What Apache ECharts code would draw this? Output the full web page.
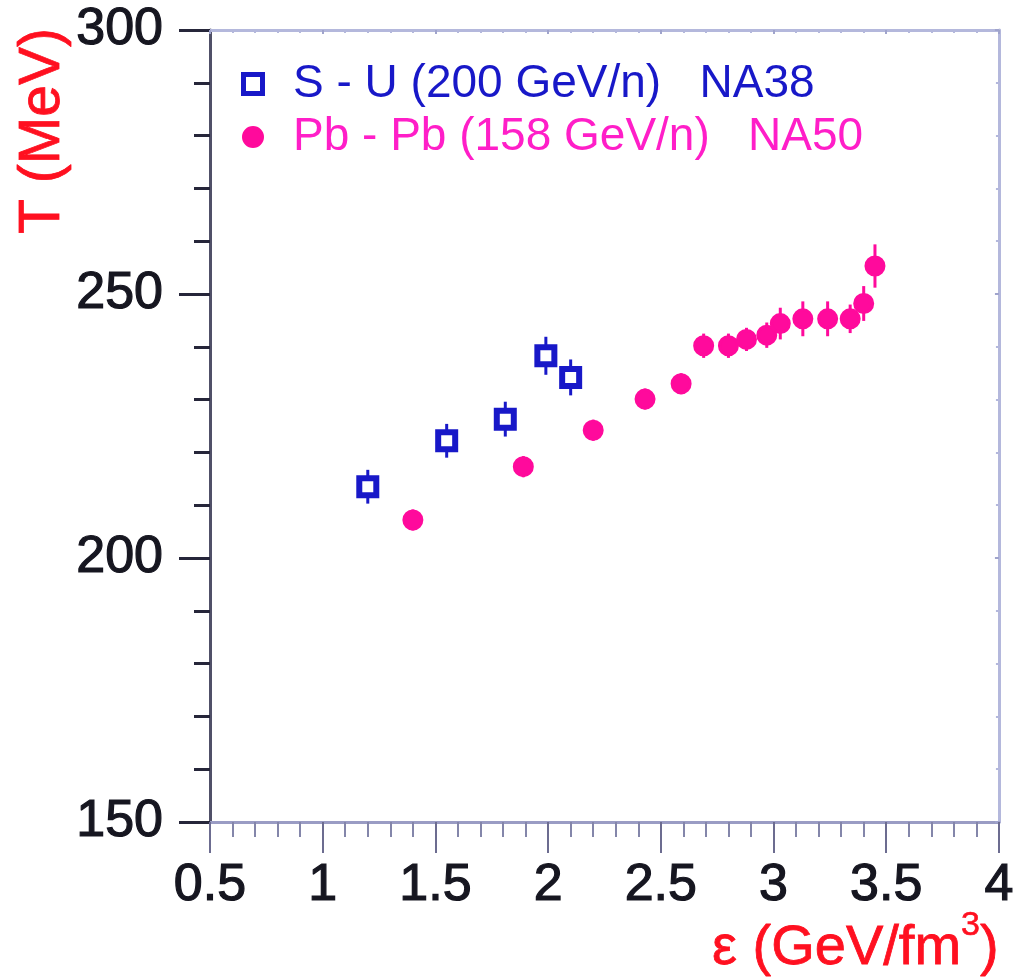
<!DOCTYPE html>
<html>
<head>
<meta charset="utf-8">
<script src="https://cdn.jsdelivr.net/npm/echarts@6/dist/echarts.min.js"></script>
<style>
  html, body { margin: 0; padding: 0; background: #fff; }
  #chart { width: 1017px; height: 979px; }
</style>
</head>
<body>
<div id="chart"></div>
<script>
// Temperature T (MeV) versus energy density ε (GeV/fm^3)
const suName = 'S - U (200 GeV/n)   NA38';
const suEps = [1.20, 1.55, 1.81, 1.99, 2.10];
const suT   = [213.5, 222.2, 226.3, 238.3, 234.2];
const suErr = [3.2, 3.2, 3.3, 3.6, 3.4];

const pbName = 'Pb - Pb (158 GeV/n)   NA50';
const pbEps = [1.40, 1.89, 2.20, 2.43, 2.59, 2.69, 2.80, 2.88, 2.97, 3.03, 3.13, 3.24, 3.34, 3.40, 3.45];
const pbT   = [207.2, 217.3, 224.2, 230.1, 233.0, 240.2, 240.2, 241.4, 242.2, 244.4, 245.3, 245.3, 245.3, 248.2, 255.3];
const pbErr = [2.0, 2.0, 2.0, 2.0, 2.0, 2.3, 2.3, 2.2, 2.4, 3.0, 3.3, 3.3, 2.7, 3.3, 4.1];

// Axis ranges and tick labels
const xRange = [0.5, 4];
const xStep = 0.5;
const xTickLabels = ['0.5', '1', '1.5', '2', '2.5', '3', '3.5', '4'];
const yRange = [150, 300];
const yStep = 50;
const yTickLabels = ['150', '200', '250', '300'];

const FONT = "'Liberation Sans', Arial, Helvetica, sans-serif";
const BLUE = '#1818c8';
const PINK = '#ff0a9c';
const PINK_TEXT = '#ff1ec8';
const RED = '#ff1020';
const INK = '#161620';

const chart = echarts.init(document.getElementById('chart'), null, { renderer: 'canvas' });

function errorBars(color) {
  return function (params, api) {
    const x = api.value(0), y = api.value(1), e = api.value(2);
    const p1 = api.coord([x, y + e]);
    const p2 = api.coord([x, y - e]);
    return {
      type: 'line',
      shape: { x1: p1[0], y1: p1[1], x2: p2[0], y2: p2[1] },
      style: { stroke: color, lineWidth: 3 }
    };
  };
}

const lightFrame = {
  axisLine: { show: true, lineStyle: { color: '#b4b8dc', width: 3 } },
  axisTick: { show: true, inside: true, length: 4, lineStyle: { color: '#a0a4cc', width: 2 } },
  minorTick: { show: true, splitNumber: 5, length: 3, lineStyle: { color: '#b4b8dc', width: 2 } },
  axisLabel: { show: false },
  splitLine: { show: false }
};

// square outline used as the S - U legend icon (keeps its aspect)
const squareIcon = 'path://M0,0H10V10H0Z';

const option = {
  backgroundColor: '#ffffff',
  animation: false,
  grid: { left: 210, right: 17, top: 30, bottom: 157 },
  legend: {
    orient: 'vertical',
    left: 241,
    top: 61,
    padding: 0,
    itemGap: 7,
    itemWidth: 70,
    itemHeight: 19,
    symbolKeepAspect: true,
    selectedMode: false,
    textStyle: { fontFamily: FONT, fontSize: 46 },
    data: [
      { name: suName, icon: squareIcon, textStyle: { color: BLUE },
        itemStyle: { color: '#ffffff', borderColor: BLUE, borderWidth: 5 } },
      { name: pbName, icon: 'circle', textStyle: { color: PINK_TEXT },
        itemStyle: { color: PINK, borderColor: PINK, borderWidth: 3 } }
    ]
  },
  xAxis: [
    {
      type: 'value',
      position: 'bottom',
      min: xRange[0], max: xRange[1], interval: xStep,
      axisLine: { show: true, lineStyle: { color: '#9a9cc4', width: 3 } },
      axisTick: { show: true, inside: false, length: 31, lineStyle: { color: '#6c6c90', width: 2 } },
      minorTick: { show: true, splitNumber: 5, length: 15, lineStyle: { color: '#8486aa', width: 2 } },
      splitLine: { show: false },
      axisLabel: {
        margin: 38,
        fontFamily: FONT, fontSize: 52, color: INK,
        textBorderColor: INK, textBorderWidth: 1.2,
        formatter: (v) => xTickLabels[Math.round((v - xRange[0]) / xStep)]
      }
    },
    Object.assign({
      type: 'value', position: 'top',
      min: xRange[0], max: xRange[1], interval: xStep
    }, lightFrame)
  ],
  yAxis: [
    {
      type: 'value',
      position: 'left',
      min: yRange[0], max: yRange[1], interval: yStep,
      axisLine: { show: true, lineStyle: { color: '#505068', width: 3 } },
      axisTick: { show: true, inside: false, length: 31, lineStyle: { color: '#26263a', width: 3 } },
      minorTick: { show: true, splitNumber: 5, length: 16, lineStyle: { color: '#26263a', width: 3 } },
      splitLine: { show: false },
      axisLabel: {
        margin: 47,
        fontFamily: FONT, fontSize: 52, color: INK,
        textBorderColor: INK, textBorderWidth: 1.2,
        formatter: (v) => yTickLabels[Math.round((v - yRange[0]) / yStep)]
      }
    },
    Object.assign({
      type: 'value', position: 'right',
      min: yRange[0], max: yRange[1], interval: yStep
    }, lightFrame)
  ],
  graphic: [
    {
      type: 'text',
      x: 43, y: 131,
      rotation: Math.PI / 2,
      style: {
        text: 'T (MeV)',
        font: '57px ' + FONT,
        fill: RED,
        stroke: RED,
        lineWidth: 0.8,
        align: 'center',
        verticalAlign: 'middle'
      }
    },
    {
      type: 'text',
      right: 18,
      top: 908,
      style: {
        text: '{m|ε (GeV/fm}{s|3}{m|)}',
        fill: RED,
        rich: {
          m: { fontFamily: FONT, fontSize: 56, fill: RED, stroke: RED, lineWidth: 0.8,
               lineHeight: 68, verticalAlign: 'bottom' },
          s: { fontFamily: FONT, fontSize: 34, fill: RED, stroke: RED, lineWidth: 0.6,
               lineHeight: 34, verticalAlign: 'top' }
        }
      }
    }
  ],
  series: [
    {
      name: 'suErr',
      type: 'custom',
      renderItem: errorBars(BLUE),
      data: suEps.map((x, i) => [x, suT[i], suErr[i]]),
      z: 1
    },
    {
      name: 'pbErr',
      type: 'custom',
      renderItem: errorBars(PINK),
      data: pbEps.map((x, i) => [x, pbT[i], pbErr[i]]),
      z: 1
    },
    {
      name: suName,
      type: 'scatter',
      symbol: 'rect',
      symbolSize: 17,
      itemStyle: { color: '#ffffff', borderColor: BLUE, borderWidth: 6, opacity: 1 },
      data: suEps.map((x, i) => [x, suT[i]]),
      z: 3
    },
    {
      name: pbName,
      type: 'scatter',
      symbol: 'circle',
      symbolSize: 18,
      itemStyle: { color: PINK, borderColor: PINK, borderWidth: 3, opacity: 1 },
      data: pbEps.map((x, i) => [x, pbT[i]]),
      z: 3
    }
  ]
};

chart.setOption(option);
</script>
</body>
</html>
